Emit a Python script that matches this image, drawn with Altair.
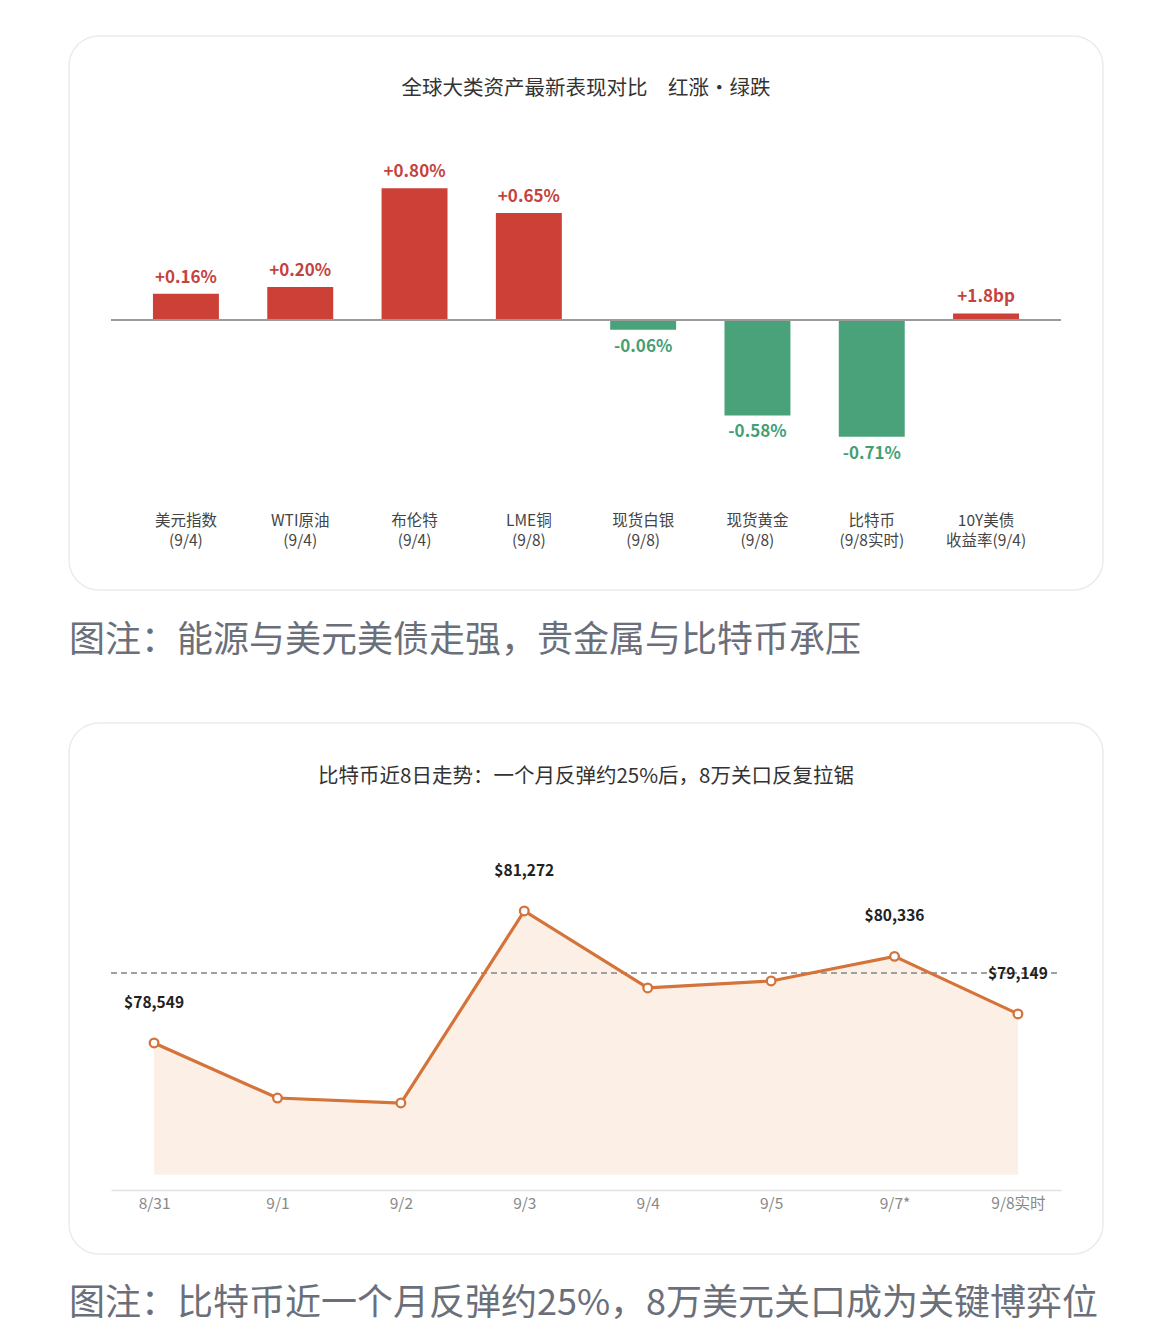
import altair as alt
import pandas as pd

FONT = "Noto Sans CJK SC"

# ---------------- data ----------------
asset_names = ["美元指数|(9/4)", "WTI原油|(9/4)", "布伦特|(9/4)", "LME铜|(9/8)",
               "现货白银|(9/8)", "现货黄金|(9/8)", "比特币|(9/8实时)", "10Y美债|收益率(9/4)"]
asset_changes = [0.16, 0.20, 0.80, 0.65, -0.06, -0.58, -0.71, 0.04]
asset_labels = ["+0.16%", "+0.20%", "+0.80%", "+0.65%", "-0.06%", "-0.58%", "-0.71%", "+1.8bp"]

btc_dates = ["8/31", "9/1", "9/2", "9/3", "9/4", "9/5", "9/7*", "9/8实时"]
btc_prices = [78549, 77414, 77311, 81272, 79684, 79828, 80336, 79149]
btc_labels = ["$78,549", "", "", "$81,272", "", "", "$80,336", "$79,149"]
btc_ref_level = 80000
btc_area_base = 75830

title1 = "全球大类资产最新表现对比\u3000红涨·绿跌"
title2 = "比特币近8日走势：一个月反弹约25%后，8万关口反复拉锯"
caption1 = "图注：能源与美元美债走强，贵金属与比特币承压"
caption2 = "图注：比特币近一个月反弹约25%，8万美元关口成为关键博弈位"

RED = "#cc4038"
GREEN = "#4aa27a"
RED_TXT = "#c4433d"
GREEN_TXT = "#43a075"
ORANGE = "#d4733a"
CAPTION = "#6b6f7a"

W = 1034
H1 = 554
H2 = 531

# ---------------- chart 1: bars ----------------
df1 = pd.DataFrame({"asset": asset_names, "change": asset_changes, "label": asset_labels})

xband = alt.X("asset:N", sort=None,
              scale=alt.Scale(range=[42, 992], paddingInner=0.423, paddingOuter=0.367),
              axis=alt.Axis(title=None, ticks=False, domain=False, labelPadding=0,
                            offset=-77, labelAngle=0, labelFontSize=15.5, labelColor="#444",
                            labelLineHeight=20, labelBaseline="top",
                            labelExpr="split(datum.label, '|')"))
yscale1 = alt.Scale(domain=[-1.641, 1.726], nice=False, zero=False)

base1 = alt.Chart(df1)
bars = base1.mark_bar().encode(
    x=xband,
    y=alt.Y("change:Q", scale=yscale1, axis=None),
    y2=alt.datum(0),
    color=alt.condition("datum.change >= 0", alt.value(RED), alt.value(GREEN)),
)
pos_txt = base1.transform_filter("datum.change >= 0").mark_text(
    baseline="alphabetic", dy=-11, fontSize=17, fontWeight="bold", color=RED_TXT
).encode(x=alt.X("asset:N", sort=None), y=alt.Y("change:Q"), text="label:N")
neg_txt = base1.transform_filter("datum.change < 0").mark_text(
    baseline="top", dy=9, fontSize=17, fontWeight="bold", color=GREEN_TXT
).encode(x=alt.X("asset:N", sort=None), y=alt.Y("change:Q"), text="label:N")
zero_rule = base1.mark_rule(color="#9a9a9a", strokeWidth=1.5).encode(
    y=alt.datum(0), x=alt.value(42), x2=alt.value(992)
)
t1 = alt.Chart(pd.DataFrame({"t": [title1]})).mark_text(
    fontSize=20.5, color="#333", baseline="middle", align="center"
).encode(text="t:N", x=alt.value(W / 2), y=alt.value(53))

chart1 = alt.layer(bars, zero_rule, pos_txt, neg_txt, t1).properties(
    width=W, height=H1,
    title=alt.TitleParams(caption1, orient="bottom", anchor="start", fontSize=36,
                          fontWeight="normal", color=CAPTION, offset=34, font=FONT),
)

# ---------------- chart 2: bitcoin line ----------------
df2 = pd.DataFrame({"date": btc_dates, "price": btc_prices, "label": btc_labels})

xpt = alt.X("date:O", sort=None,
            scale=alt.Scale(type="point", range=[42, 992], padding=0.349),
            axis=alt.Axis(title=None, ticks=False, domain=True, domainColor="#e2e2e2",
                          domainWidth=1.5, labelPadding=6,
                          offset=-64, labelAngle=0, labelFontSize=15.5, labelColor="#888"))
yscale2 = alt.Scale(domain=[74196, 85150], nice=False, zero=False)

base2 = alt.Chart(df2)
area = base2.mark_area(color="#fcefe5", opacity=1).encode(
    x=xpt, y=alt.Y("price:Q", scale=yscale2, axis=None), y2=alt.datum(btc_area_base)
)
line = base2.mark_line(color=ORANGE, strokeWidth=3.2).encode(
    x=alt.X("date:O", sort=None), y="price:Q"
)
pts = base2.mark_point(filled=True, fill="white", stroke=ORANGE, strokeWidth=2.3,
                       size=75, opacity=1).encode(
    x=alt.X("date:O", sort=None), y="price:Q"
)
lbls = base2.transform_filter("datum.label != ''").mark_text(
    dy=-40, fontSize=15.5, fontWeight="bold", color="#222", baseline="middle"
).encode(x=alt.X("date:O", sort=None), y="price:Q", text="label:N")
ref = base2.mark_rule(color="#a0a0a0", strokeWidth=1.5, strokeDash=[6, 4]).encode(
    y=alt.datum(btc_ref_level), x=alt.value(42), x2=alt.value(992)
)
t2 = alt.Chart(pd.DataFrame({"t": [title2]})).mark_text(
    fontSize=20.5, color="#333", baseline="middle", align="center"
).encode(text="t:N", x=alt.value(W / 2), y=alt.value(54))

chart2 = alt.layer(area, ref, line, pts, lbls, t2).properties(
    width=W, height=H2,
    title=alt.TitleParams(caption2, orient="bottom", anchor="start", fontSize=36,
                          fontWeight="normal", color=CAPTION, offset=33, font=FONT),
)

chart = alt.vconcat(chart1, chart2, spacing=62).properties(
    padding={"left": 60, "top": 27, "right": 10, "bottom": 10}
).configure(font=FONT).configure_view(
    cornerRadius=30, fill="white", stroke="#ebebeb", strokeWidth=1.5
)

chart.save("out.html", embed_options={"renderer": "svg", "actions": False})
